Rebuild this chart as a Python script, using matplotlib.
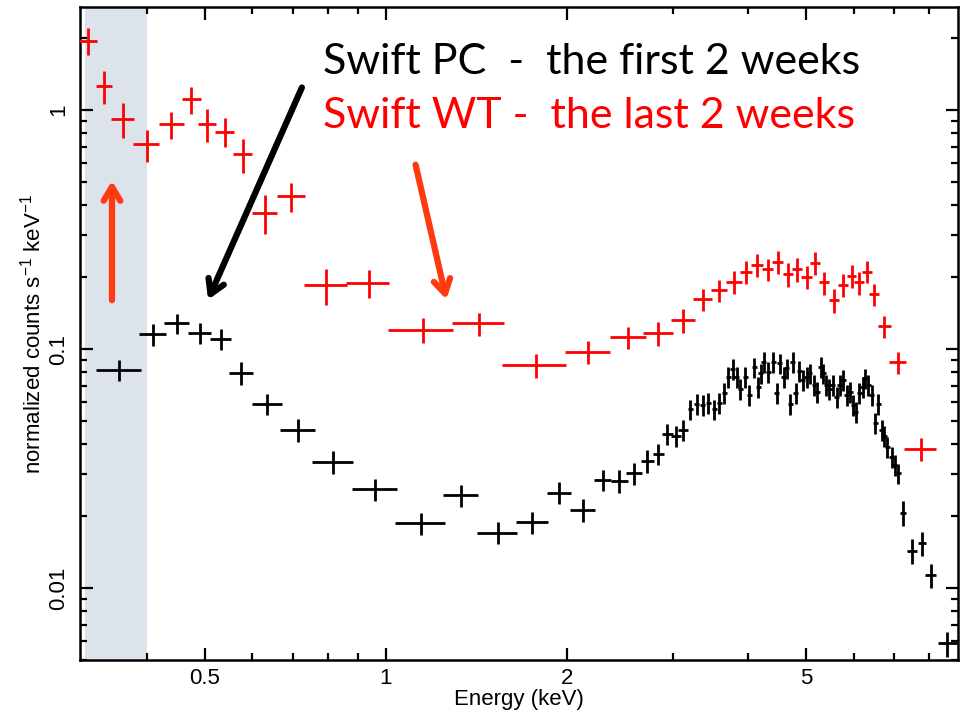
import matplotlib
matplotlib.use('Agg')
from matplotlib import pyplot as plt
from matplotlib.ticker import LogLocator, FixedLocator, NullFormatter, FixedFormatter

plt.rcParams['font.family'] = ['Liberation Sans', 'DejaVu Sans']
plt.rcParams['mathtext.fontset'] = 'custom'
plt.rcParams['mathtext.rm'] = 'Liberation Sans'
plt.rcParams['mathtext.default'] = 'regular'

# Swift WT - the last 2 weeks (red)
wt_e = [0.320, 0.340, 0.365, 0.400, 0.440, 0.475, 0.505, 0.540, 0.579, 0.629,
        0.696, 0.796, 0.936, 1.152, 1.431, 1.778, 2.173, 2.533, 2.841, 3.125,
        3.367, 3.588, 3.796, 3.969, 4.150, 4.318, 4.487, 4.662, 4.826, 5.013,
        5.183, 5.364, 5.566, 5.768, 5.957, 6.135, 6.324, 6.496, 6.749, 7.103,
        7.757]
wt_de = [0.011, 0.011, 0.016, 0.020, 0.021, 0.017, 0.017, 0.020, 0.021, 0.031,
         0.037, 0.066, 0.078, 0.144, 0.143, 0.218, 0.19, 0.172, 0.16, 0.148,
         0.125, 0.113, 0.11, 0.093, 0.098, 0.09, 0.09, 0.09, 0.095, 0.1,
         0.1, 0.105, 0.105, 0.11, 0.11, 0.115, 0.12, 0.12, 0.17, 0.23,
         0.47]
wt_f = [1.95, 1.26, 0.914, 0.719, 0.871, 1.11, 0.871, 0.811, 0.653, 0.372,
        0.435, 0.185, 0.189, 0.120, 0.128, 0.0855, 0.0972, 0.112, 0.1163, 0.132,
        0.1614, 0.1765, 0.191, 0.2106, 0.2246, 0.2154, 0.2319, 0.2053, 0.2154, 0.2007,
        0.2297, 0.190, 0.160, 0.1853, 0.2026, 0.190, 0.2106, 0.1694, 0.1248, 0.0879,
        0.0382]
wt_df = [0.25, 0.20, 0.153, 0.11, 0.114, 0.145, 0.135, 0.112, 0.107, 0.07,
         0.06, 0.032, 0.026, 0.0144, 0.0142, 0.0095, 0.0104, 0.012, 0.013, 0.015,
         0.0177, 0.0185, 0.021, 0.0235, 0.0245, 0.023, 0.025, 0.023, 0.024, 0.023,
         0.0257, 0.021, 0.018, 0.02, 0.0225, 0.021, 0.0225, 0.0185, 0.0133, 0.0094,
         0.0042]

# Swift PC - the first 2 weeks (black)
pc_e = [0.360, 0.410, 0.4497, 0.4905, 0.531, 0.575, 0.635, 0.715, 0.818, 0.960,
        1.144, 1.336, 1.536, 1.753, 1.944, 2.127, 2.296, 2.446, 2.588, 2.723,
        2.841, 2.940, 3.036, 3.125,
        3.207, 3.290, 3.367, 3.440, 3.516, 3.588, 3.653, 3.713, 3.777, 3.835,
        3.884, 3.959, 4.025, 4.098, 4.166, 4.204, 4.257, 4.328, 4.410, 4.468,
        4.525, 4.595, 4.643, 4.704, 4.753, 4.808, 4.874, 4.938, 5.013, 5.077,
        5.156, 5.222, 5.290, 5.344, 5.399, 5.468, 5.540, 5.623, 5.695, 5.768,
        5.844, 5.918, 5.993, 6.055, 6.133, 6.214, 6.268, 6.344, 6.433, 6.514,
        6.596, 6.683, 6.742, 6.828, 6.943, 7.031, 7.121, 7.259, 7.514, 7.789,
        8.062, 8.590]
pc_de = [0.031, 0.021, 0.0215, 0.022, 0.021, 0.027, 0.037, 0.047, 0.063, 0.083,
         0.11, 0.09, 0.12, 0.108, 0.09, 0.1, 0.076, 0.08, 0.078, 0.07,
         0.058, 0.06, 0.06, 0.06,
         0.031, 0.032, 0.032, 0.033, 0.034, 0.034, 0.035, 0.036, 0.036, 0.037,
         0.037, 0.038, 0.039, 0.039, 0.040, 0.040, 0.041, 0.042, 0.042, 0.043,
         0.043, 0.044, 0.045, 0.045, 0.046, 0.046, 0.047, 0.047, 0.048, 0.049,
         0.049, 0.050, 0.051, 0.051, 0.052, 0.052, 0.053, 0.054, 0.055, 0.055,
         0.056, 0.057, 0.058, 0.058, 0.059, 0.060, 0.060, 0.061, 0.062, 0.063,
         0.063, 0.064, 0.065, 0.066, 0.067, 0.067, 0.068, 0.083, 0.145, 0.12,
         0.177, 0.31]
pc_f = [0.0817, 0.1151, 0.128, 0.117, 0.110, 0.0796, 0.0589, 0.0458, 0.0338, 0.0259,
        0.01865, 0.0244, 0.01704, 0.01883, 0.0251, 0.0212, 0.0283, 0.0281, 0.0302, 0.0340,
        0.0364, 0.0441, 0.0433, 0.0458,
        0.0559, 0.0589, 0.0583, 0.0593, 0.0559, 0.0596, 0.0657, 0.0766, 0.0823, 0.0766,
        0.0678, 0.0766, 0.0642, 0.0838, 0.0696, 0.0791, 0.0885, 0.0804, 0.0885, 0.0653,
        0.0871, 0.0766, 0.0830, 0.0589, 0.0885, 0.0653, 0.0811, 0.0742, 0.0766, 0.0791,
        0.0707, 0.0663, 0.0843, 0.0791, 0.0707, 0.0678, 0.0707, 0.0632, 0.0707, 0.0742,
        0.0642, 0.0663, 0.0583, 0.0547, 0.0653, 0.0696, 0.0754, 0.0707, 0.0642, 0.0491,
        0.0589, 0.0458, 0.0433, 0.0390, 0.0354, 0.0327, 0.0302, 0.02066, 0.01432, 0.01538,
        0.01134, 0.00587]
pc_df = [0.008, 0.0117, 0.0122, 0.0116, 0.011, 0.0087, 0.0061, 0.005, 0.0038, 0.0028,
         0.002, 0.0026, 0.0018, 0.002, 0.0027, 0.0023, 0.0029, 0.003, 0.0031, 0.0037,
         0.0038, 0.0045, 0.0045, 0.0047,
         0.0056, 0.0059, 0.0058, 0.0059, 0.0056, 0.006, 0.0066, 0.0077, 0.0082, 0.0077,
         0.0068, 0.0077, 0.0064, 0.0084, 0.007, 0.0079, 0.0089, 0.008, 0.0089, 0.0065,
         0.0087, 0.0077, 0.0083, 0.0059, 0.0089, 0.0065, 0.0081, 0.0074, 0.0077, 0.0079,
         0.0071, 0.0066, 0.0084, 0.0079, 0.0071, 0.0068, 0.0071, 0.0063, 0.0071, 0.0074,
         0.0064, 0.0066, 0.0058, 0.0055, 0.0065, 0.007, 0.0075, 0.0071, 0.0064, 0.0049,
         0.0059, 0.0046, 0.0043, 0.0039, 0.0035, 0.0033, 0.003, 0.0025, 0.0017, 0.0018,
         0.0013, 0.0007]

xticks = [0.5, 1, 2, 5]
xtick_labels = ['0.5', '1', '2', '5']
yticks = [0.01, 0.1, 1]
ytick_labels = ['0.01', '0.1', '1']
shade_band = (0.316, 0.40)

fig = plt.figure(figsize=(9.6, 7.18), dpi=100)
ax = fig.add_axes([80 / 960, 58 / 718, 878 / 960, 653 / 718])
ax.set_xscale('log')
ax.set_yscale('log')
ax.set_xlim(0.31, 8.95)
ax.set_ylim(0.005, 2.7)

ax.axvspan(*shade_band, color='#dce3eb', lw=0, zorder=0)

ax.errorbar(pc_e, pc_f, xerr=pc_de, yerr=pc_df, fmt='none', ecolor='black',
            elinewidth=2, capsize=0, zorder=3)
ax.errorbar(wt_e, wt_f, xerr=wt_de, yerr=wt_df, fmt='none', ecolor='#ff0000',
            elinewidth=2, capsize=0, zorder=3)

# ticks
ax.xaxis.set_major_locator(FixedLocator(xticks))
ax.xaxis.set_major_formatter(FixedFormatter(xtick_labels))
ax.xaxis.set_minor_locator(LogLocator(base=10, subs=range(1, 10)))
ax.xaxis.set_minor_formatter(NullFormatter())
ax.yaxis.set_major_locator(FixedLocator(yticks))
ax.yaxis.set_major_formatter(FixedFormatter(ytick_labels))
ax.yaxis.set_minor_locator(LogLocator(base=10, subs=range(2, 10)))
ax.yaxis.set_minor_formatter(NullFormatter())
ax.tick_params(which='both', direction='in', top=True, right=True, width=1.6,
               labelsize=16)
ax.tick_params(which='major', length=9)
ax.tick_params(which='minor', length=5)
ax.tick_params(axis='x', pad=6)
ax.tick_params(axis='y', pad=8)
for lab in ax.get_yticklabels():
    lab.set_rotation(90)
    lab.set_va('center')
for sp in ax.spines.values():
    sp.set_linewidth(1.8)

ax.set_xlabel('Energy (keV)', fontsize=16, labelpad=0)
ax.set_ylabel(r'normalized counts s$^{-1}$ keV$^{-1}$', fontsize=16, labelpad=2)

# annotations
ax.text(0.2768, 0.8974, 'Swift PC  -  the first 2 weeks', transform=ax.transAxes,
        fontsize=31, family='Lato', color='black', va='baseline')
ax.text(0.2768, 0.8147, 'Swift WT -  the last 2 weeks', transform=ax.transAxes,
        fontsize=31, family='Lato', color='#ff0000', va='baseline')

arrow_black = dict(arrowstyle='->,head_length=1.0,head_width=0.6', lw=4.5, color='black')
arrow_red = dict(arrowstyle='->,head_length=1.0,head_width=0.6', lw=4.5, color='#ff3a10')
ax.annotate('', xy=(0.1446, 0.548), xytext=(0.254, 0.8806),
            xycoords='axes fraction', arrowprops=arrow_black, zorder=5)
ax.annotate('', xy=(0.0364, 0.7381), xytext=(0.0364, 0.5467),
            xycoords='axes fraction', arrowprops=arrow_red, zorder=5)
ax.annotate('', xy=(0.418, 0.548), xytext=(0.3815, 0.7626),
            xycoords='axes fraction', arrowprops=arrow_red, zorder=5)

fig.savefig('out.png', dpi=100)
